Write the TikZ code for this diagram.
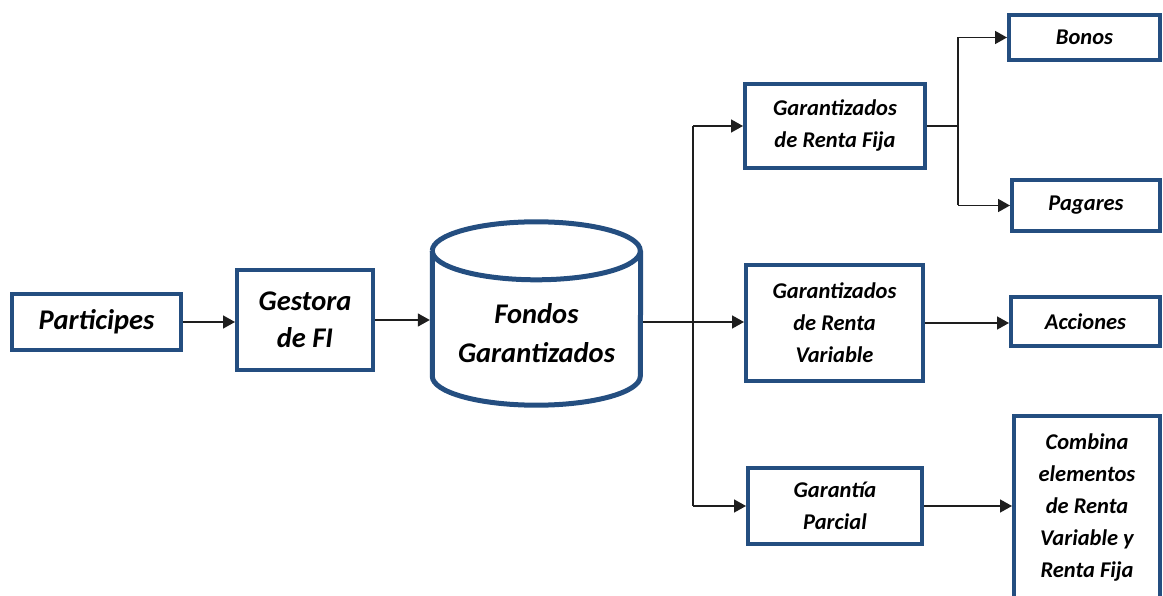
\documentclass[tikz,border=0pt]{standalone}
\usepackage{fontspec}
\setmainfont{Carlito}
\usetikzlibrary{arrows.meta,calc}
\definecolor{boxblue}{RGB}{36,78,128}
\definecolor{linegray}{RGB}{30,30,30}
\tikzset{
  box/.style={draw=boxblue, line width=4pt, fill=white, inner sep=0pt,
    align=center, font=\bfseries\itshape\fontsize{22.5}{32}\selectfont},
  bigbox/.style={box, font=\bfseries\itshape\fontsize{28.5}{37}\selectfont},
  link/.style={draw=linegray, line width=1.6pt},
  arr/.style={link, -{Triangle[length=12pt,width=13pt]}}
}
\begin{document}
\begin{tikzpicture}[x=1pt,y=-1pt]
\useasboundingbox (0,0) rectangle (1163,596);

% left chain
\node[bigbox, minimum width=169pt, minimum height=56pt] (part) at (96.5,322) {Participes};
\node[bigbox, minimum width=136pt, minimum height=100pt] (gest) at (305,320) {Gestora\\de FI};

% fund store: outline node plus its caption
\node[minimum width=213pt, minimum height=187pt, inner sep=0pt] (fondos) at (536.5,313.5) {};
\begin{scope}[draw=boxblue, line width=5pt]
  \draw ($(fondos.north west)+(2.5,31)$) arc[start angle=180, end angle=540, x radius=104pt, y radius=29pt];
  \draw ($(fondos.north west)+(2.5,31)$) -- ($(fondos.south west)+(2.5,-31)$)
        arc[start angle=180, end angle=360, x radius=104pt, y radius=29pt]
        -- ($(fondos.north east)+(-2.5,31)$);
\end{scope}
\node[align=center, inner sep=0pt, font=\bfseries\itshape\fontsize{28.5}{39}\selectfont]
  (fondostxt) at (536.5,333) {Fondos\\Garantizados};

% fund types
\node[box, minimum width=180pt, minimum height=84pt] (rf) at (835,126) {Garantizados\\de Renta Fija};
\node[box, minimum width=177pt, minimum height=116pt] (rv) at (834.5,323) {Garantizados\\de Renta\\Variable};
\node[box, minimum width=174pt, minimum height=76pt] (gp) at (835,506) {Garantía\\Parcial};

% instruments
\node[box, minimum width=151pt, minimum height=45pt] (bonos) at (1084.5,37.5) {Bonos};
\node[box, minimum width=148pt, minimum height=51pt] (pag) at (1086,205.5) {Pagares};
\node[box, minimum width=149pt, minimum height=49pt] (acc) at (1085.5,321.5) {Acciones};
\node[box, minimum width=146pt, minimum height=183pt] (comb) at (1087,507.5) {Combina\\elementos\\de Renta\\Variable y\\Renta Fija};

% junctions
\coordinate (split) at (693,322);
\coordinate (splitrf) at (958,127);

% connectors
\draw[arr] (part.east) -- (part.east -| gest.west);
\draw[arr] (gest.east) -- (gest.east -| fondos.west);
\draw[arr] (fondos.east |- split) -- (split -| rv.west);
\draw[link] (split |- rf.west) -- (split |- gp.west);
\draw[arr] (split |- rf.west) -- (rf.west);
\draw[arr] (split |- gp.west) -- (gp.west);

\draw[link] (rf.east) -- (splitrf |- rf.east);
\draw[link] (splitrf |- bonos.west) -- (splitrf |- pag.west);
\draw[arr] (splitrf |- bonos.west) -- (bonos.west);
\draw[arr] (splitrf |- pag.west) -- (pag.west);

\draw[arr] (rv.east) -- (rv.east -| acc.west);
\draw[arr] (gp.east) -- (gp.east -| comb.west);
\end{tikzpicture}
\end{document}
